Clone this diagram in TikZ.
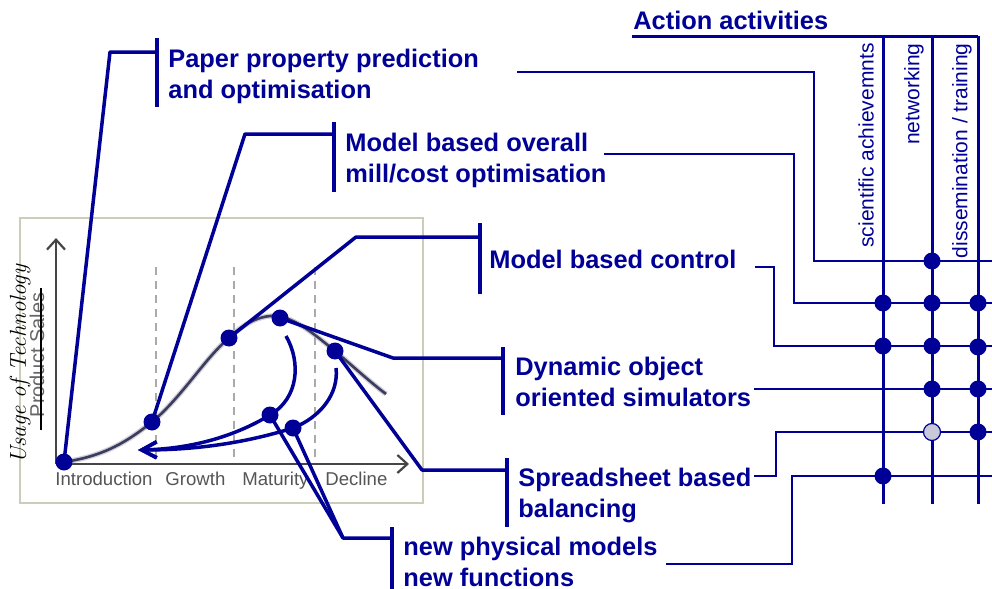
\documentclass[tikz,border=0pt]{standalone}
\usepackage{fontspec}
\newfontfamily\arialfont{Liberation Sans}
\usetikzlibrary{arrows.meta}
\definecolor{navy}{RGB}{0,0,150}
\definecolor{framecol}{RGB}{204,204,184}
\definecolor{axiscol}{RGB}{70,70,70}
\definecolor{curvecol}{RGB}{60,60,95}
\definecolor{dashcol}{RGB}{170,170,170}
\definecolor{ghost}{RGB}{200,200,216}
\definecolor{stagecol}{RGB}{85,85,85}
\begin{document}
\begin{tikzpicture}[x=0.5pt,y=-0.5pt,
  lead/.style={navy, line width=1.75pt, line join=round},
  bar/.style={navy, line width=1.6pt},
  wire/.style={navy, line width=0.8pt},
  rail/.style={navy, line width=1.5pt},
  dot/.style={circle, fill=navy, inner sep=0pt, minimum size=8.5pt},
  ghostdot/.style={circle, fill=ghost, draw=navy, line width=0.6pt, inner sep=0pt, minimum size=8.5pt},
  label/.style={anchor=base west, inner sep=0pt, text=navy,
    font=\arialfont\bfseries\fontsize{12.7}{15.5}\selectfont},
  colhead/.style={rotate=90, anchor=east, inner sep=0pt, text=navy,
    font=\arialfont\fontsize{10.5}{12}\selectfont},
  stage/.style={anchor=base west, inner sep=0pt, text=stagecol,
    font=\arialfont\fontsize{9.3}{11}\selectfont},
  axisarrow/.style={axiscol, line width=1.1pt, -{Straight Barb[length=5pt,width=9pt]}},
  phase/.style={dashcol, line width=1.1pt, dash pattern=on 4pt off 3pt},
]
\useasboundingbox (0,0) rectangle (992,589);

% ---------- product life cycle chart ----------
\draw[framecol, line width=1.4pt, fill=white] (20,218) rectangle (423,503);
\foreach \px in {156,234,315}
  \draw[phase] (\px,267) -- (\px,462);
\coordinate (origin) at (56,464);
\coordinate (yend) at (56,238);
\coordinate (xend) at (409,464);
\draw[axisarrow] (origin) -- (yend);
\draw[axisarrow] (origin) -- (xend);

\coordinate (p0) at (64,462);
\coordinate (p1) at (152,422);
\coordinate (p2) at (229,338);
\coordinate (p3) at (280,318);
\coordinate (p4) at (335,351);
\coordinate (p5) at (270,415);
\coordinate (p6) at (293,428);

\def\lifecurve{(p0) .. controls (105,456) and (128,441) .. (p1)
  .. controls (182,397) and (205,358) .. (p2)
  .. controls (245,322) and (262,315) .. (276,316)
  .. controls (296,318) and (315,335) .. (p4)
  .. controls (355,368) and (370,382) .. (386,394)}
\draw[curvecol!40, line width=2.6pt, opacity=0.6] \lifecurve;
\draw[curvecol, line width=1.3pt] \lifecurve;

\node[stage] (sIntro) at (55,485) {Introduction};
\node[stage] (sGrowth) at (165,485) {Growth};
\node[stage] (sMature) at (242,485) {Maturity};
\node[stage] (sDecline) at (325,485) {Decline};

\node[rotate=90, inner sep=0pt, font=\itshape\fontsize{11.5}{13}\selectfont]
  (yUsage) at (20,364) {Usage of Technology};
\node[rotate=90, inner sep=0pt, text=black!60, font=\arialfont\fontsize{10}{12}\selectfont]
  (ySales) at (37,355) {Product Sales};
\coordinate (strikeT) at (41,288);
\coordinate (strikeB) at (41,430);
\draw[black, line width=1pt] (strikeT) -- (strikeB);

% ---------- feedback arrows inside the chart ----------
\coordinate (tip) at (138,450);
\draw[lead, -{Straight Barb[length=7.5pt,width=8pt]}]
  (286,336) .. controls (301,362) and (299,398) .. (p5)
  .. controls (232,438) and (188,449) .. (tip);
\draw[lead, -{Straight Barb[length=7.5pt,width=8pt]}]
  (336,368) .. controls (339,393) and (321,417) .. (p6)
  .. controls (242,444) and (192,450) .. (tip);

% ---------- leader lines to the labels ----------
\coordinate (k0) at (110,52);   \coordinate (e0) at (157,52);
\coordinate (k1) at (245,134);  \coordinate (e1) at (334,134);
\coordinate (k2) at (356,237);  \coordinate (e2) at (480,237);
\coordinate (k3) at (393,358);  \coordinate (e3) at (503,358);
\coordinate (k4) at (422,470);  \coordinate (e4) at (507,470);
\coordinate (k5) at (343,538);  \coordinate (e5) at (392,538);

\draw[lead] (p0) -- (k0) -- (e0);
\draw[lead] (p1) -- (k1) -- (e1);
\draw[lead] (p2) -- (k2) -- (e2);
\draw[lead] (p3) -- (k3) -- (e3);
\draw[lead] (p4) -- (k4) -- (e4);
\draw[lead] (p5) -- (k5) -- (e5);
\draw[lead] (p6) -- (k5);

\draw[bar] (157,38) -- (157,107);
\draw[bar] (334,122) -- (334,192);
\draw[bar] (480,223) -- (480,294);
\draw[bar] (503,347) -- (503,415);
\draw[bar] (507,458) -- (507,527);
\draw[bar] (392,527) -- (392,592);

\node[label] (lPaper) at (168,68)
  {\begin{tabular}[t]{@{}l@{}}Paper property prediction\\and optimisation\end{tabular}};
\node[label] (lOverall) at (345,151)
  {\begin{tabular}[t]{@{}l@{}}Model based overall\\mill/cost optimisation\end{tabular}};
\node[label] (lControl) at (489,268) {Model based control};
\node[label] (lDynamic) at (515,375)
  {\begin{tabular}[t]{@{}l@{}}Dynamic object\\oriented simulators\end{tabular}};
\node[label] (lSheet) at (518,486)
  {\begin{tabular}[t]{@{}l@{}}Spreadsheet based\\balancing\end{tabular}};
\node[label] (lPhys) at (403,555)
  {\begin{tabular}[t]{@{}l@{}}new physical models\\new functions\end{tabular}};

% ---------- action activities matrix ----------
\node[label] (lAction) at (633,30) {Action activities};
\coordinate (hL) at (632,36);
\coordinate (c1t) at (883,36);  \coordinate (c1b) at (883,504);
\coordinate (c2t) at (932,36);  \coordinate (c2b) at (932,504);
\coordinate (c3t) at (978,36);  \coordinate (c3b) at (978,504);
\draw[rail] (hL) -- (c3t);
\draw[rail] (c1t) -- (c1b);
\draw[rail] (c2t) -- (c2b);
\draw[rail] (c3t) -- (c3b);

\node[colhead] (hSci) at (866,43) {scientific achievemnts};
\node[colhead] (hNet) at (914,43) {networking};
\node[colhead] (hDis) at (962,43) {dissemination / training};

\draw[wire] (517,72) -- (814,72) -- (814,261) -- (992,261);
\draw[wire] (604,154) -- (794,154) -- (794,303) -- (992,303);
\draw[wire] (755,267) -- (774,267) -- (774,346) -- (992,346);
\draw[wire] (754,389) -- (992,389);
\draw[wire] (754,476) -- (776,476) -- (776,432) -- (992,432);
\draw[wire] (666,564) -- (792,564) -- (792,476) -- (992,476);

\node[dot] (m12) at (932,261) {};
\node[dot] (m21) at (883,303) {};
\node[dot] (m22) at (932,303) {};
\node[dot] (m23) at (978,303) {};
\node[dot] (m31) at (883,346) {};
\node[dot] (m32) at (932,346) {};
\node[dot] (m33) at (978,347) {};
\node[dot] (m42) at (932,389) {};
\node[dot] (m43) at (978,389) {};
\node[ghostdot] (m52) at (932,432) {};
\node[dot] (m53) at (978,432) {};
\node[dot] (m61) at (883,476) {};

% ---------- dots on the life cycle curve ----------
\node[dot] (d0) at (p0) {};
\node[dot] (d1) at (p1) {};
\node[dot] (d2) at (p2) {};
\node[dot] (d3) at (p3) {};
\node[dot] (d4) at (p4) {};
\node[dot] (d5) at (p5) {};
\node[dot] (d6) at (p6) {};
\end{tikzpicture}
\end{document}
